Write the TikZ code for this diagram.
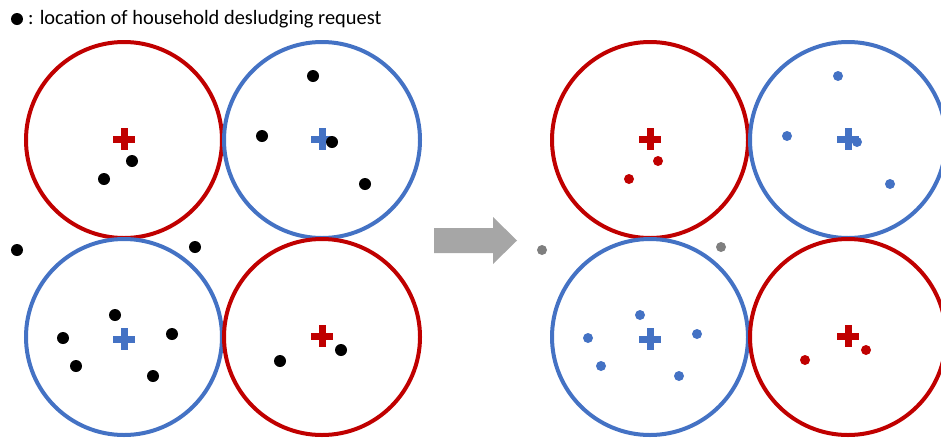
\documentclass[tikz,border=0pt]{standalone}
\usepackage{fontspec}
\setmainfont{Carlito}
\definecolor{cred}{HTML}{C00000}
\definecolor{cblue}{HTML}{4472C4}
\definecolor{cgray}{HTML}{7F7F7F}
\definecolor{carrow}{HTML}{A6A6A6}
\tikzset{
  zone/.style={line width=4pt},
  crs/.pic={\fill[pic actions] (-11,-3.5) rectangle (11,3.5); \fill[pic actions] (-3.5,-11) rectangle (3.5,11);},
}
\begin{document}
\begin{tikzpicture}[x=1pt,y=-1pt]
\useasboundingbox (0,0) rectangle (941,437);
% legend
\fill (17,19) circle (6);
\node[anchor=west,inner sep=0,font=\fontsize{20.4}{24}\selectfont] (leg) at (28,19) {: location of household desludging request};
% left group
\draw[zone,cred] (124,140) circle (98);
\draw[zone,cblue] (322,140) circle (98);
\draw[zone,cblue] (124,337) circle (98);
\draw[zone,cred] (322,337) circle (98);
\pic[cred] at (124,139) {crs};
\pic[cblue] at (322,139) {crs};
\pic[cblue] at (124,339) {crs};
\pic[cred] at (322,336) {crs};
\foreach \p in {(132,161),(104,179),(313,76),(262,136),(332,142),(365,184),(17,250),(195,247),(115,315),(63,338),(172,334),(76,366),(153,376),(341,350),(280,361)}
  \fill \p circle (6);
% arrow
\fill[carrow] (434,228) -- (493,228) -- (493,217) -- (517,240.5) -- (493,264) -- (493,253) -- (434,253) -- cycle;
% right group
\draw[zone,cred] (650,140) circle (98);
\draw[zone,cblue] (848,140) circle (98);
\draw[zone,cblue] (650,337) circle (98);
\draw[zone,cred] (848,337) circle (98);
\pic[cred] at (650,139) {crs};
\pic[cblue] at (848,139) {crs};
\pic[cblue] at (650,339) {crs};
\pic[cred] at (848,336) {crs};
\foreach \p in {(658,161),(629,179),(866,350),(805,360)}
  \fill[cred] \p circle (5);
\foreach \p in {(838,76),(787,136),(857,142),(890,184),(640,315),(588,338),(697,334),(601,366),(679,376)}
  \fill[cblue] \p circle (5);
\foreach \p in {(542,250),(721,247)}
  \fill[cgray] \p circle (5);
\end{tikzpicture}
\end{document}
